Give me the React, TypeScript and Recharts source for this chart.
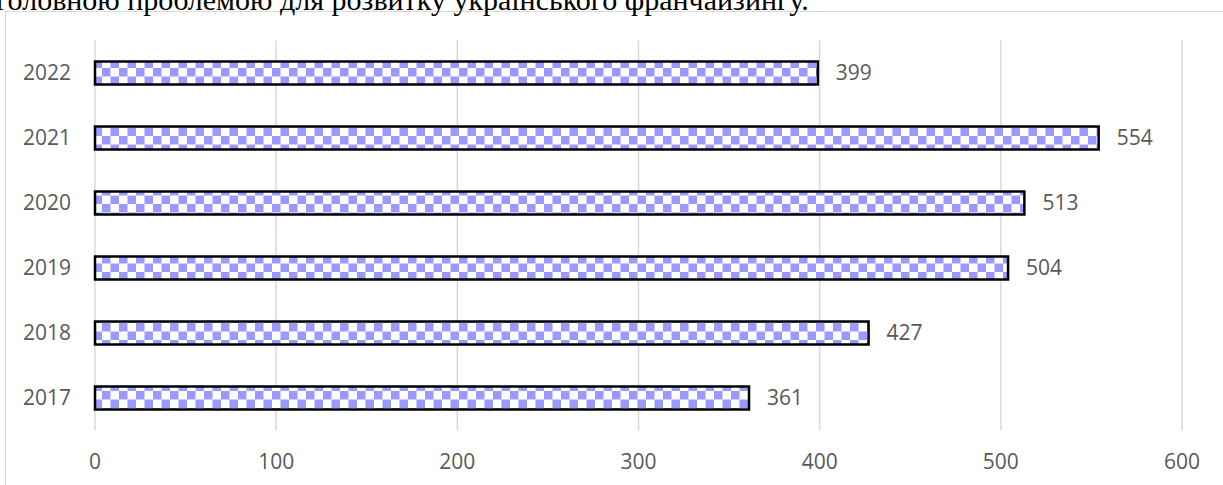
import { BarChart, Bar, XAxis, YAxis, CartesianGrid, LabelList } from "recharts";

const years = ["2017", "2018", "2019", "2020", "2021", "2022"];
const counts = [361, 427, 504, 513, 554, 399];
const xTicks = [0, 100, 200, 300, 400, 500, 600];

const data = years.map((year, i) => ({ year, count: counts[i] }));

const tickStyle = { fill: "#595959", fontSize: 21, fontFamily: "'Open Sans', sans-serif" };

export default function App() {
  return (
    <div style={{ position: "fixed", left: 0, top: 0, width: 1223, height: 485, overflow: "hidden", background: "#fff" }}>
      <div
        style={{
          position: "absolute",
          left: 5,
          top: 11,
          width: 1260,
          height: 520,
          border: "1.5px solid #d9d9d9",
        }}
      />
      <div
        style={{
          position: "absolute",
          left: -4,
          top: -15,
          whiteSpace: "nowrap",
          fontFamily: "'Liberation Serif', serif",
          fontSize: 30,
          lineHeight: "30px",
          color: "#000",
        }}
      >
        головною проблемою для розвитку українського франчайзингу.
      </div>
      <div style={{ position: "absolute", left: 0, top: 0 }}>
        <BarChart
          width={1223}
          height={485}
          data={data}
          layout="vertical"
          margin={{ top: 40.5, right: 41, bottom: 24.5, left: 0 }}
          barCategoryGap={0}
        >
          <defs>
            <pattern id="checker" patternUnits="userSpaceOnUse" width={17} height={17}>
              <rect x={0} y={0} width={17} height={17} fill="#ffffff" />
              <rect x={0} y={0} width={8.5} height={8.5} fill="#9999ff" />
              <rect x={8.5} y={8.5} width={8.5} height={8.5} fill="#9999ff" />
            </pattern>
          </defs>
          <CartesianGrid horizontal={false} stroke="#d9d9d9" strokeWidth={1.5} />
          <XAxis
            type="number"
            domain={[0, 600]}
            ticks={xTicks}
            axisLine={false}
            tickLine={false}
            tickSize={0}
            tickMargin={24}
            tick={tickStyle}
            interval={0}
            height={30}
          />
          <YAxis
            type="category"
            dataKey="year"
            reversed
            width={95}
            axisLine={false}
            tickLine={false}
            tickSize={0}
            tickMargin={24}
            tick={tickStyle}
          />
          <Bar
            dataKey="count"
            barSize={23}
            fill="url(#checker)"
            stroke="#000"
            strokeWidth={2.5}
            isAnimationActive={false}
          >
            <LabelList dataKey="count" position="right" offset={18} style={tickStyle} />
          </Bar>
        </BarChart>
      </div>
    </div>
  );
}
